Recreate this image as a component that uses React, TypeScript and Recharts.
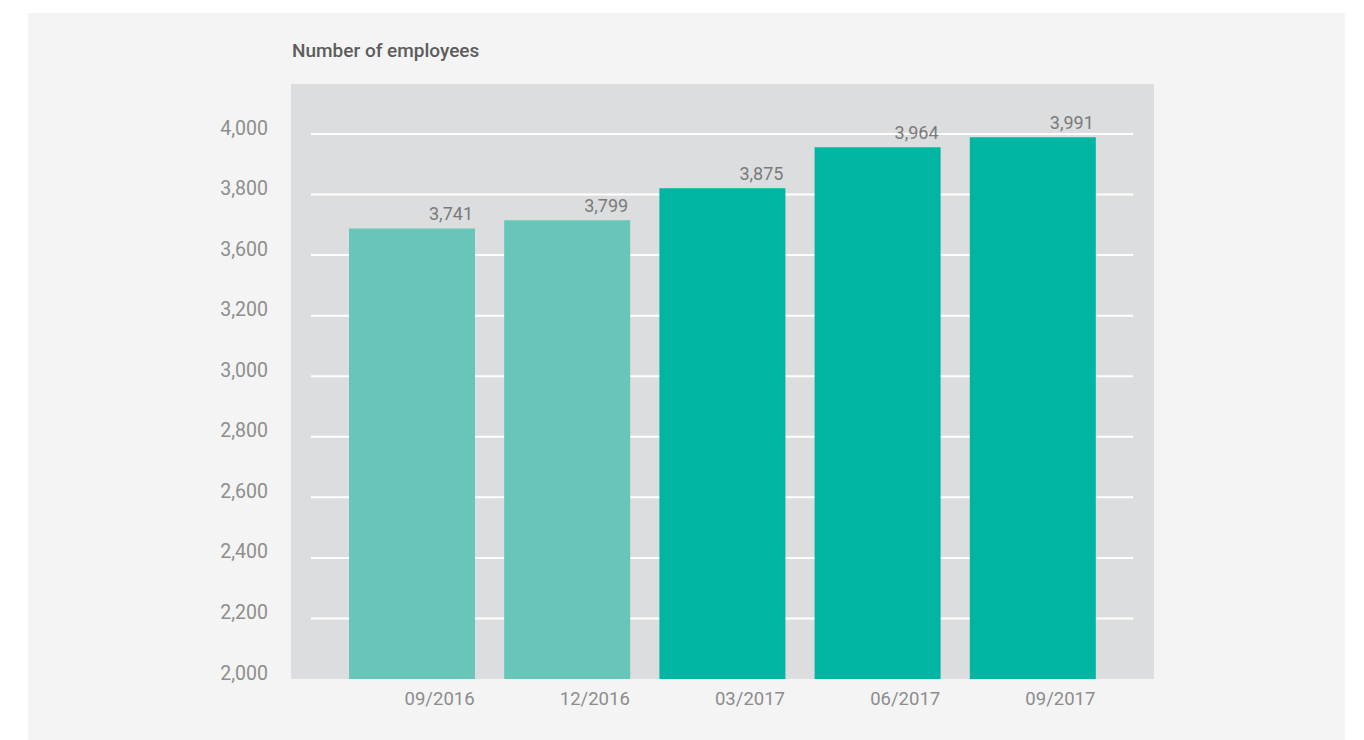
import { Bar, BarChart, CartesianGrid, Cell, LabelList, XAxis, YAxis } from "recharts";

// quarter-end headcount
const quarters = ["09/2016", "12/2016", "03/2017", "06/2017", "09/2017"];
const employees = [3741, 3799, 3875, 3964, 3991];
// bar heights as drawn in the source graphic, read against its gridlines
const barLevels = [3488, 3515, 3621, 3756, 3789];

// gridline positions and the labels the source prints next to them
const yTicks = [2000, 2200, 2400, 2600, 2800, 3000, 3200, 3400, 3600, 3800];
const yTickLabels = ["2,000", "2,200", "2,400", "2,600", "2,800", "3,000", "3,200", "3,600", "3,800", "4,000"];

const barColors = ["#67c6b8", "#67c6b8", "#00b5a1", "#00b5a1", "#00b5a1"];

const data = quarters.map((q, i) => ({ quarter: q, level: barLevels[i], value: employees[i] }));

const FONT = "Roboto, 'Open Sans', sans-serif";

function XTick({ x, y, payload }: any) {
  return (
    <text x={x + 63} y={y} dy={12} textAnchor="end" dominantBaseline="central" fontSize={18.5} fill="#8c8c8c" fontFamily={FONT}>
      {payload.value}
    </text>
  );
}

function YTick({ x, y, payload, index }: any) {
  return (
    <text x={x} y={y} dx={-35} dy={-6} textAnchor="end" dominantBaseline="central" fontSize={19.5} fill="#8e8e8e" fontFamily={FONT}>
      {yTickLabels[index] ?? payload.value}
    </text>
  );
}

function ValueLabel({ x, y, width, index }: any) {
  return (
    <text x={x + width - 2} y={y - 15} textAnchor="end" dominantBaseline="central" fontSize={18} fill="#7a7a7a" fontFamily={FONT}>
      {employees[index].toLocaleString("en-US")}
    </text>
  );
}

// white gridlines, but none on the plot floor
function GridLine(props: any) {
  const { x1, x2, y1, y2, offset } = props;
  const floor = offset ? offset.top + offset.height - 1 : 677;
  if (y1 >= floor) return <g />;
  return <line x1={x1} x2={x2} y1={y1} y2={y2} stroke="#ffffff" strokeWidth={2} />;
}

export default function App() {
  return (
    <div style={{ position: "absolute", left: 0, top: 0, width: 1364, height: 740, background: "#fff", fontFamily: FONT }}>
      <div style={{ position: "absolute", left: 28, top: 13, width: 1317, height: 727, background: "#f4f4f4" }} />
      <div style={{ position: "absolute", left: 291, top: 84, width: 863, height: 595, background: "#dcdddf" }} />
      <div
        style={{
          position: "absolute",
          left: 292,
          top: 41,
          fontSize: 19,
          lineHeight: "19px",
          fontWeight: 500,
          color: "#5c5c5c",
          whiteSpace: "nowrap",
        }}
      >
        Number of employees
      </div>
      <div style={{ position: "absolute", left: 0, top: 0 }}>
        <BarChart width={1364} height={740} data={data} margin={{ top: 134, right: 231, bottom: 31, left: 211 }} barSize={126}>
          <CartesianGrid vertical={false} horizontal={(p: any) => <GridLine {...p} />} />
          <XAxis
            dataKey="quarter"
            axisLine={false}
            tickLine={false}
            tick={<XTick />}
            padding={{ left: 23, right: 23 }}
            height={30}
          />
          <YAxis
            domain={[2000, 3800]}
            ticks={yTicks}
            axisLine={false}
            tickLine={false}
            tick={<YTick />}
            width={100}
            allowDataOverflow
          />
          <Bar dataKey="level" isAnimationActive={false}>
            {data.map((d, i) => (
              <Cell key={d.quarter} fill={barColors[i]} />
            ))}
            <LabelList dataKey="value" content={<ValueLabel />} />
          </Bar>
        </BarChart>
      </div>
    </div>
  );
}
